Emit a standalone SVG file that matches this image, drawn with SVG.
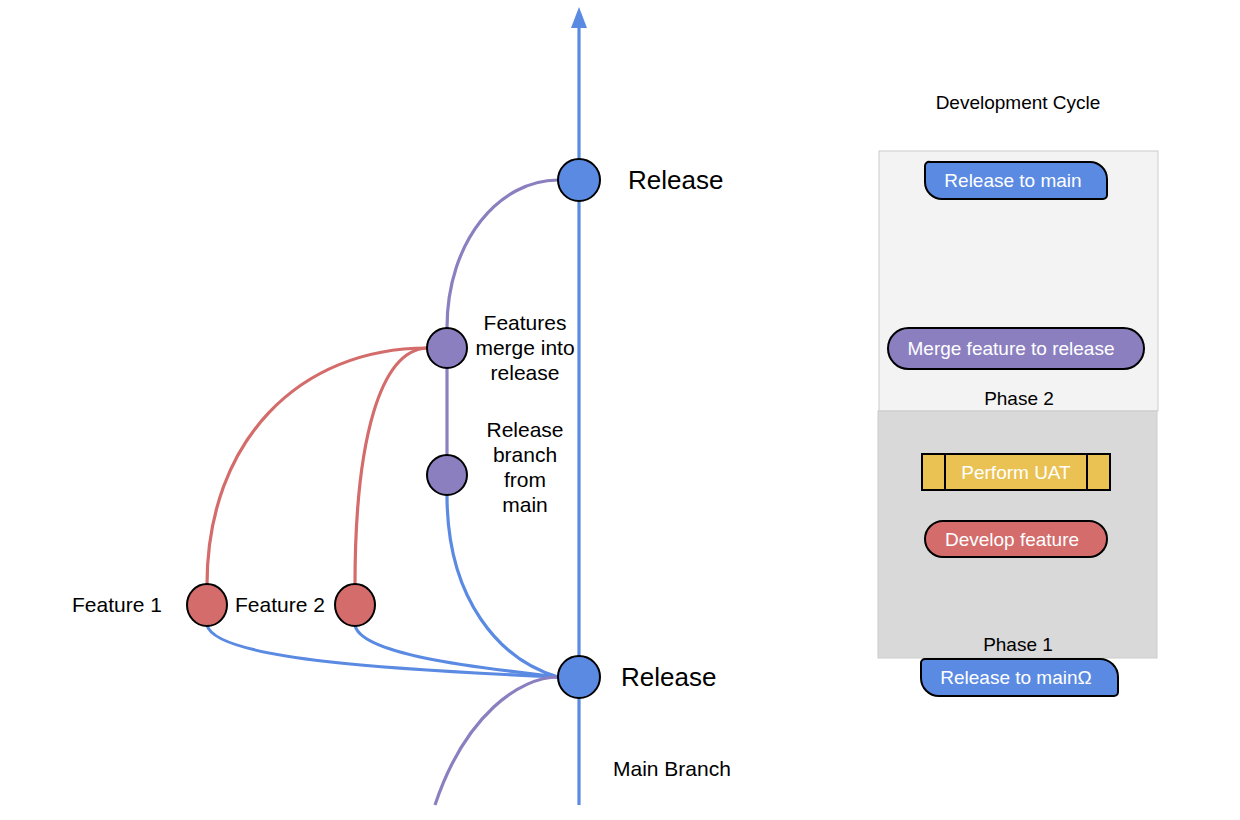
<svg xmlns="http://www.w3.org/2000/svg" width="1240" height="820" viewBox="0 0 1240 820">
<style>
text{font-family:"Liberation Sans",Arial,sans-serif;fill:#000}
.lbl{font-size:21px}
.big{font-size:26px}
.w{fill:#fff;font-size:19px}
.b{stroke:#5a8ae2;stroke-width:3.2;fill:none}
.p{stroke:#8b7fc0;stroke-width:3.2;fill:none}
.r{stroke:#d36c6a;stroke-width:3.2;fill:none}
.nb{fill:#5a8ae2;stroke:#000;stroke-width:2}
.np{fill:#8b7fc0;stroke:#000;stroke-width:2}
.nr{fill:#d36c6a;stroke:#000;stroke-width:2}
</style>
<rect width="1240" height="820" fill="#fff"/>
<g id="connectors">
<line class="b" x1="579" y1="805" x2="579" y2="24"/>
<polygon points="579,7 571,28 587,28" fill="#5a8ae2"/>
<path class="p" d="M447,328 C447,240 500,180 558,180"/>
<line class="p" x1="447" y1="368" x2="447" y2="455"/>
<path class="b" d="M447,495 C447,600 500,660 558,677"/>
<path class="r" d="M207,585 C207,440 300,348 427,348"/>
<path class="r" d="M355,585 C355,440 380,350 427,348"/>
<path class="b" d="M207,625 C215,660 400,670 558,677"/>
<path class="b" d="M355,625 C360,655 480,668 558,677"/>
<path class="p" d="M435,805 C465,715 520,677 558,677"/>
</g>
<g id="release-top"><circle class="nb" cx="579" cy="180" r="21"/><text class="big" x="628" y="189">Release</text></g>
<g id="release-bottom"><circle class="nb" cx="579" cy="677" r="21"/><text class="big" x="621" y="686">Release</text></g>
<g id="merge"><circle class="np" cx="447" cy="348" r="20"/>
<text class="lbl" text-anchor="middle" x="525" y="330">Features</text>
<text class="lbl" text-anchor="middle" x="525" y="355">merge into</text>
<text class="lbl" text-anchor="middle" x="525" y="380">release</text></g>
<g id="branch"><circle class="np" cx="447" cy="475" r="20"/>
<text class="lbl" text-anchor="middle" x="525" y="437">Release</text>
<text class="lbl" text-anchor="middle" x="525" y="462">branch</text>
<text class="lbl" text-anchor="middle" x="525" y="487">from</text>
<text class="lbl" text-anchor="middle" x="525" y="512">main</text></g>
<g id="feature1"><ellipse class="nr" cx="207" cy="605" rx="20" ry="21"/><text class="lbl" x="72" y="612">Feature 1</text></g>
<g id="feature2"><ellipse class="nr" cx="355" cy="605" rx="20" ry="21"/><text class="lbl" x="235" y="612">Feature 2</text></g>
<g id="main-branch"><text class="lbl" x="613" y="776">Main Branch</text></g>
<g id="dev-cycle">
<text x="1018" y="109" text-anchor="middle" font-size="19">Development Cycle</text>
<rect x="879" y="151" width="279" height="260" fill="#f3f3f3" stroke="#cccccc" stroke-width="1"/>
<rect x="878" y="411" width="279" height="247" fill="#d9d9d9" stroke="#cccccc" stroke-width="1"/>
<text x="1019" y="405" text-anchor="middle" font-size="19">Phase 2</text>
<text x="1018" y="651" text-anchor="middle" font-size="19">Phase 1</text>
</g>
<g id="release-to-main">
<path d="M930,162 H1090 A17,17 0 0 1 1107,179 V195 A4,4 0 0 1 1103,199 H942 A17,17 0 0 1 925,182 V166 A4,4 0 0 1 930,162 Z" fill="#5a8ae2" stroke="#000" stroke-width="2"/>
<text class="w" x="1013" y="187" text-anchor="middle">Release to main</text></g>
<g id="merge-feature">
<rect x="888" y="328" width="256" height="41" rx="20.5" fill="#8b7fc0" stroke="#000" stroke-width="2"/>
<text class="w" x="1011" y="355" text-anchor="middle">Merge feature to release</text></g>
<g id="perform-uat">
<rect x="922" y="454" width="188" height="36" fill="#eac254" stroke="#000" stroke-width="2"/>
<line x1="945" y1="454" x2="945" y2="490" stroke="#000" stroke-width="2"/>
<line x1="1087" y1="454" x2="1087" y2="490" stroke="#000" stroke-width="2"/>
<text class="w" x="1016" y="479" text-anchor="middle">Perform UAT</text></g>
<g id="develop-feature">
<rect x="925" y="521" width="182" height="36" rx="18" fill="#d36c6a" stroke="#000" stroke-width="2"/>
<text class="w" x="1012" y="546" text-anchor="middle">Develop feature</text></g>
<g id="release-to-main-2">
<path d="M925,659 H1100 A18,18 0 0 1 1118,677 V692 A4,4 0 0 1 1114,696 H939 A18,18 0 0 1 921,678 V663 A4,4 0 0 1 925,659 Z" fill="#5a8ae2" stroke="#000" stroke-width="2"/>
<text class="w" x="1016" y="684" text-anchor="middle">Release to mainΩ</text></g>
</svg>
